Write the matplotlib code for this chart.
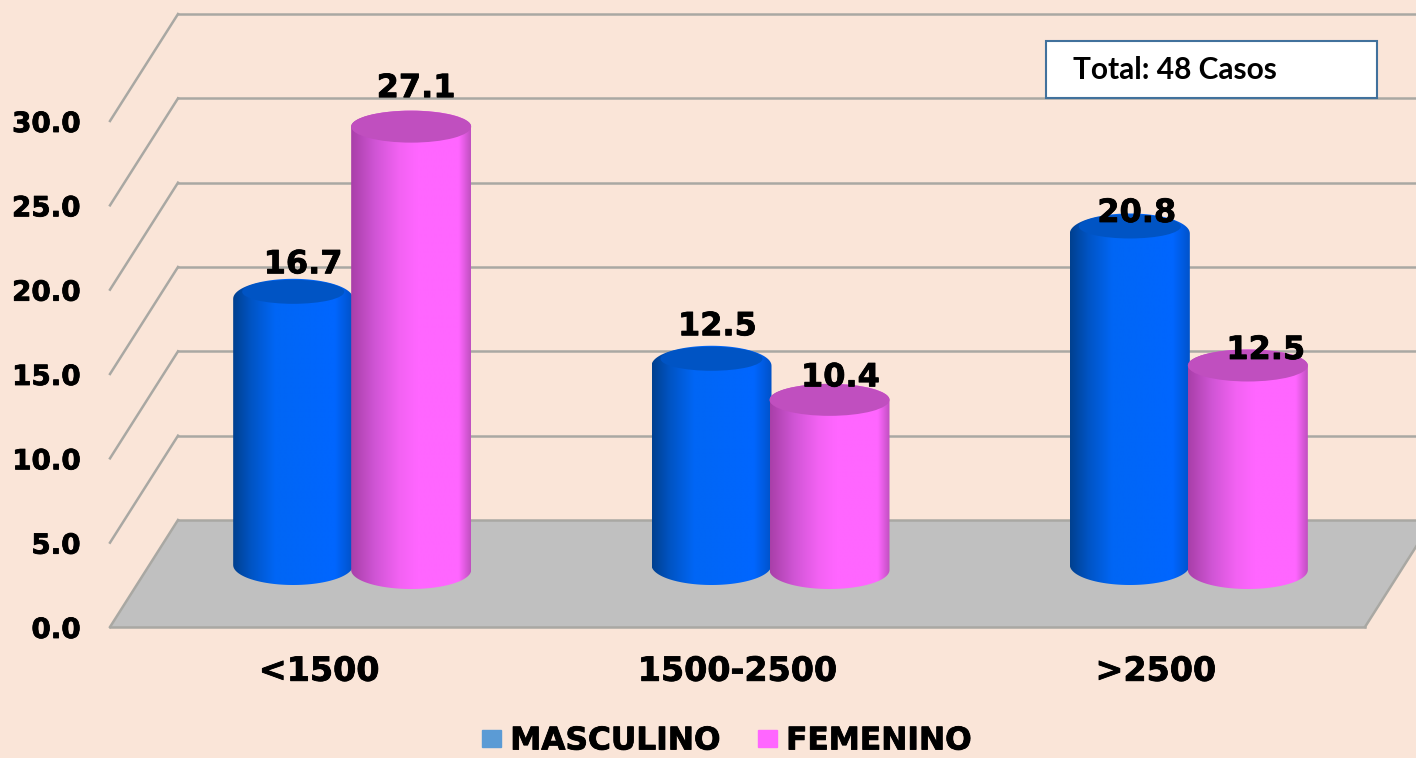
import numpy as np
import matplotlib
matplotlib.use('Agg')
import matplotlib.pyplot as plt
import matplotlib.patheffects as pe
from matplotlib.colors import LinearSegmentedColormap
from matplotlib.patches import Ellipse, PathPatch, Polygon, Rectangle
from matplotlib.path import Path

# Data
categories = ['<1500', '1500-2500', '>2500']
masculino = [16.7, 12.5, 20.8]
femenino = [27.1, 10.4, 12.5]
y_ticks = [0, 5, 10, 15, 20, 25, 30]

# Label nudges in pixels (x, up)
masculino_nudge = [(10, 34), (6, 39), (7, 20)]
femenino_nudge = [(5, 38), (11, 22), (18, 15)]

BG = '#FAE5D8'
GRID = '#A9A8A3'
W, H = 1416, 758

fig = plt.figure(figsize=(W / 100, H / 100), dpi=100, facecolor=BG)
ax = fig.add_axes([110 / W, 1 - 627 / H, 1255 / W, 506 / H])
ax.set_facecolor('none')
for s in ax.spines.values():
    s.set_visible(False)

PX = 3.0 / 1255  # one pixel in x data units
PY = 30.0 / 506  # one pixel in y data units
depth_x = 68 * PX
depth_y = 107 * PY
x_min, x_max = -0.5, 2.5

# Floor
floor = Polygon([(x_min, 0), (x_max, 0), (x_max + depth_x, depth_y), (x_min + depth_x, depth_y)],
                facecolor='#C0C0C0', edgecolor='none', clip_on=False, zorder=1)
ax.add_patch(floor)

# Wall lines
line_style = dict(color=GRID, lw=1.8, clip_on=False, zorder=2)
for v in y_ticks:
    ax.plot([x_min, x_min + depth_x], [v, v + depth_y], **line_style)
    ax.plot([x_min + depth_x, x_max + depth_x], [v + depth_y, v + depth_y], **line_style)
ax.plot([x_min, x_max], [0, 0], **line_style)
ax.plot([x_max, x_max + depth_x], [0, depth_y], **line_style)

blue_cmap = LinearSegmentedColormap.from_list(
    'blue', [(0, '#00408F'), (0.15, '#0054C4'), (0.35, '#0066F5'), (0.85, '#0066FF'), (1, '#0052C8')])
pink_cmap = LinearSegmentedColormap.from_list(
    'pink', [(0, '#A83FA8'), (0.2, '#D055D5'), (0.4, '#F262F2'), (0.55, '#FF66FF'), (0.9, '#FF66FF'), (1, '#C050C0')])

bar_w = 120 * PX


def cylinder(xc, base, top, ry_bottom, ry_top, cmap, z):
    t = np.linspace(0, np.pi, 60)
    rx = bar_w / 2
    top_x = xc + rx * np.cos(t)
    top_y = top + ry_top * PY * np.sin(t)
    bot_x = xc - rx * np.cos(t)
    bot_y = base - ry_bottom * PY * np.sin(t)
    verts = np.column_stack([np.r_[top_x, bot_x, top_x[0]], np.r_[top_y, bot_y, top_y[0]]])
    body = PathPatch(Path(verts), facecolor='none', edgecolor='none', clip_on=False, zorder=z)
    ax.add_patch(body)
    gradient = np.linspace(0, 1, 256).reshape(1, -1)
    im = ax.imshow(gradient, cmap=cmap, aspect='auto', interpolation='bilinear', zorder=z,
                   extent=(xc - rx, xc + rx, base - ry_bottom * PY, top + ry_top * PY))
    im.set_clip_box(fig.bbox)
    im.set_clip_path(body)


x_pos = np.arange(len(categories))
pair_shift = 33 * PX
half_gap = 59 * PX

# Blue cylinders
blue_base = 62 * PY
for i, v in enumerate(masculino):
    xc = x_pos[i] + pair_shift - half_gap
    top = blue_base + v * 0.945
    cylinder(xc, blue_base, top, 20, 20, blue_cmap, 3)
    ax.add_patch(Ellipse((xc, top + 7 * PY), 102 * PX, 24 * PY, facecolor='#0054C4',
                         edgecolor='none', clip_on=False, zorder=3.2))
    dx, dy = masculino_nudge[i]
    ax.annotate(f'{v:.1f}', (xc, top), xytext=(dx * 0.72, dy * 0.72), textcoords='offset points',
                ha='center', va='center', fontsize=23, fontweight='bold', color='black',
                annotation_clip=False, zorder=6)

# Pink cylinders
pink_base = 57 * PY
for i, v in enumerate(femenino):
    xc = x_pos[i] + pair_shift + half_gap
    top = pink_base + v * 0.97
    cylinder(xc, pink_base, top, 19, 16, pink_cmap, 4)
    ax.add_patch(Ellipse((xc, top), bar_w, 32 * PY, facecolor='#C04FBF',
                         edgecolor='none', clip_on=False, zorder=4.2))
    dx, dy = femenino_nudge[i]
    ax.annotate(f'{v:.1f}', (xc, top), xytext=(dx * 0.72, dy * 0.72), textcoords='offset points',
                ha='center', va='center', fontsize=23, fontweight='bold', color='black',
                annotation_clip=False, zorder=6)

ax.set_xlim(x_min, x_max)
ax.set_ylim(0, 30)
ax.set_xticks(x_pos)
ax.set_xticklabels(categories, fontsize=24, fontweight='bold')
ax.set_yticks(y_ticks)
ax.set_yticklabels([f'{v:.1f}' for v in y_ticks], fontsize=20, fontweight='bold')
ax.tick_params(axis='x', length=0, pad=20)
ax.tick_params(axis='y', length=0, pad=21)

# Legend
handles = [Rectangle((0, 0), 1, 1, color='#5B9BD5'), Rectangle((0, 0), 1, 1, color='#FF66FF')]
leg = fig.legend(handles, ['MASCULINO', 'FEMENINO'], loc='center', bbox_to_anchor=(727 / W, 1 - 741 / H),
                 ncol=2, frameon=False, prop={'size': 22.5, 'weight': 'bold'},
                 handlelength=0.6, handleheight=0.5, handletextpad=0.3, columnspacing=1.2, borderpad=0)

# Total box
fig.add_artist(Rectangle((1046 / W, 1 - 98 / H), 331 / W, 57 / H, transform=fig.transFigure,
                         facecolor='white', edgecolor='#41719C', lw=1.5, zorder=7))
fig.text(1073 / W, 1 - 70 / H, 'Total: 48 Casos', family='Lato', fontweight='bold',
         fontsize=21.5, color='black', ha='left', va='center', zorder=8)

# Heavier strokes on the chart text
heavy = [pe.withStroke(linewidth=0.6, foreground='black')]
for t in ax.texts + ax.get_xticklabels() + ax.get_yticklabels() + leg.get_texts():
    t.set_path_effects(heavy)

fig.savefig('out.png', dpi=100, facecolor=BG)
